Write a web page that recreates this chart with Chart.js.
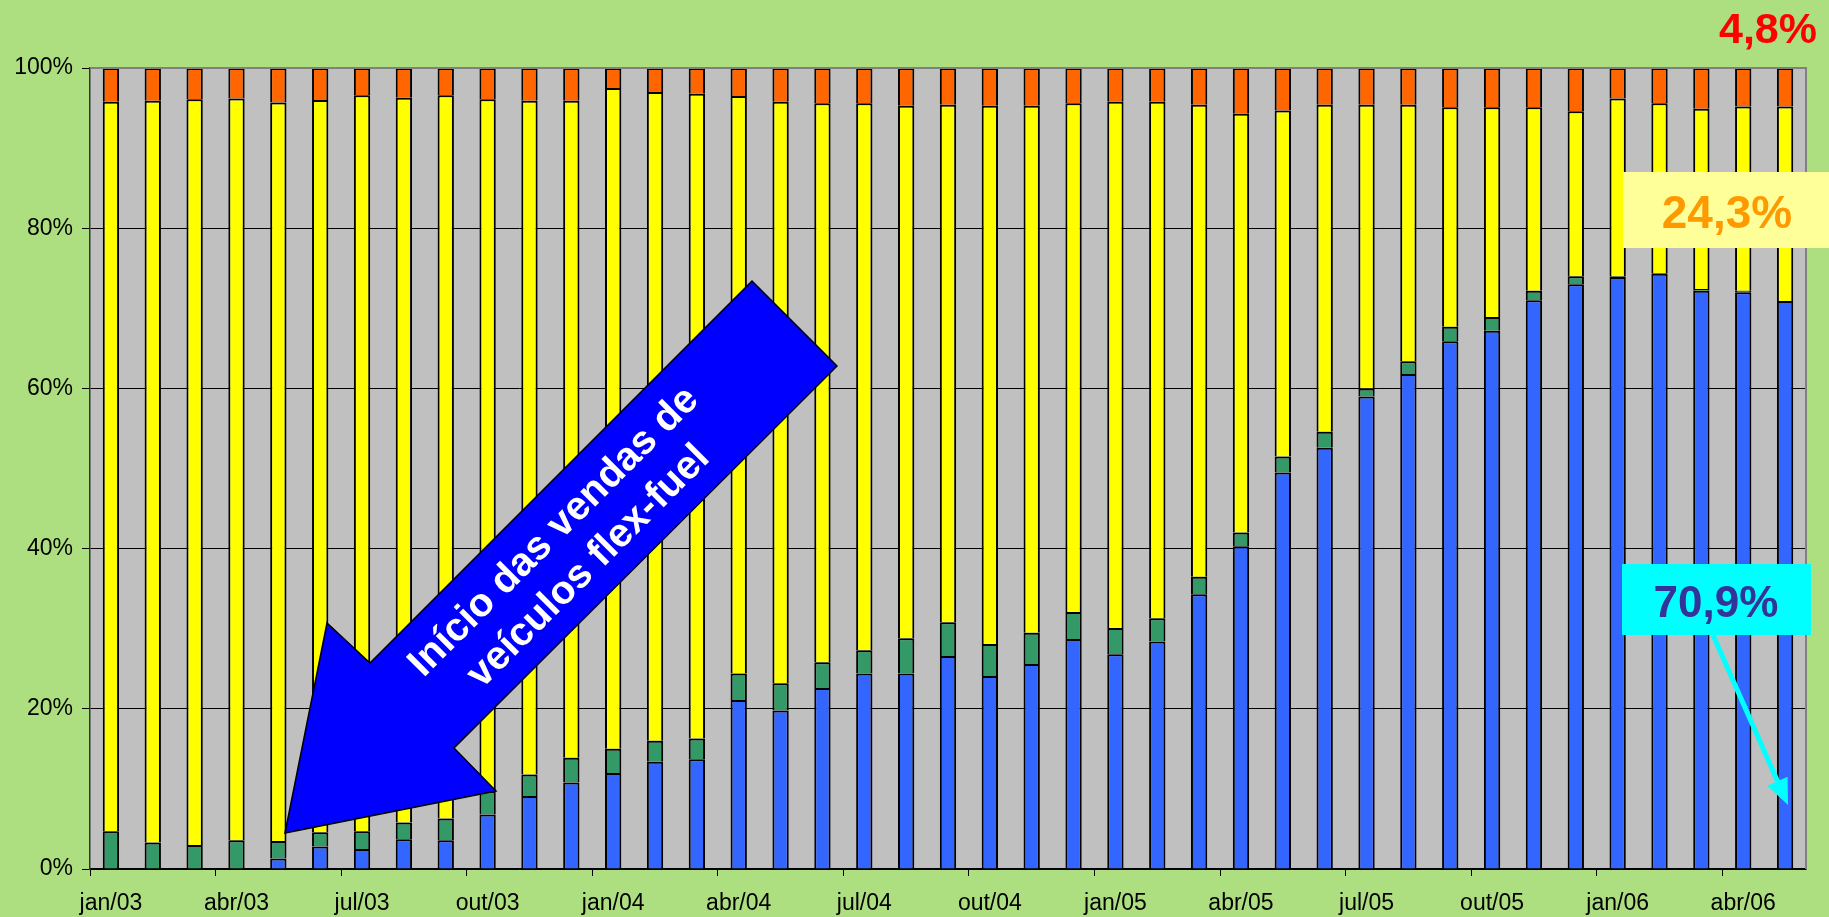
<!DOCTYPE html>
<html>
<head>
<meta charset="utf-8">
<script src="https://cdn.jsdelivr.net/npm/chart.js@4"></script>
<style>
  body { margin: 0; background: #addf80; }
  #wrap { width: 1829px; height: 917px; }
</style>
</head>
<body>
<div id="wrap"><canvas id="barChart" width="1829" height="917"></canvas></div>
<script>
const meses = [
  'jan/03','fev/03','mar/03','abr/03','mai/03','jun/03','jul/03','ago/03','set/03','out/03','nov/03','dez/03',
  'jan/04','fev/04','mar/04','abr/04','mai/04','jun/04','jul/04','ago/04','set/04','out/04','nov/04','dez/04',
  'jan/05','fev/05','mar/05','abr/05','mai/05','jun/05','jul/05','ago/05','set/05','out/05','nov/05','dez/05',
  'jan/06','fev/06','mar/06','abr/06','mai/06'
];

// participação nas vendas (%)
const flex = [0, 0, 0, 0, 1.3, 2.8, 2.5, 3.7, 3.6, 6.8, 9.1, 10.8, 12.0, 13.4, 13.7, 21.1, 19.8, 22.6, 24.4, 24.4,
  26.6, 24.1, 25.6, 28.7, 26.8, 28.4, 34.3, 40.3, 49.5, 52.6, 59.0, 61.8, 65.9, 67.2, 71.0, 73.0, 73.9, 74.3, 72.2, 72.0, 70.9];
const alcool = [4.7, 3.3, 3.0, 3.6, 2.2, 1.8, 2.2, 2.1, 2.7, 2.9, 2.7, 3.1, 3.0, 2.6, 2.6, 3.3, 3.4, 3.2, 2.9, 4.4,
  4.2, 4.0, 3.9, 3.4, 3.3, 2.9, 2.2, 1.7, 2.0, 2.0, 1.0, 1.6, 1.8, 1.7, 1.2, 1.0, 0.1, 0.1, 0.2, 0.2, 0.0];
const gasolina = [91.1, 92.6, 93.1, 92.6, 92.2, 91.4, 91.9, 90.5, 90.3, 86.4, 84.1, 82.0, 82.5, 81.0, 80.5, 72.1, 72.6, 69.8, 68.3, 66.5,
  64.6, 67.2, 65.8, 63.5, 65.7, 64.5, 58.9, 52.3, 43.2, 40.8, 35.4, 32.0, 27.4, 26.2, 22.9, 20.6, 22.2, 21.2, 22.5, 23.0, 24.3];
const diesel = [4.2, 4.1, 3.9, 3.8, 4.3, 4.0, 3.4, 3.7, 3.4, 3.9, 4.1, 4.1, 2.5, 3.0, 3.2, 3.5, 4.2, 4.4, 4.4, 4.7,
  4.6, 4.7, 4.7, 4.4, 4.2, 4.2, 4.6, 5.7, 5.3, 4.6, 4.6, 4.6, 4.9, 4.9, 4.9, 5.4, 3.8, 4.4, 5.1, 4.8, 4.8];

const fonte = '"Liberation Sans", Arial, sans-serif';

function serie(label, data, cor) {
  return {
    label: label,
    data: data,
    backgroundColor: cor,
    borderColor: '#000',
    borderWidth: 2,
    borderSkipped: 'bottom',
    barPercentage: 0.39,
    categoryPercentage: 1
  };
}

// fundo cinza da área de plotagem e moldura
const fundo = {
  id: 'fundo',
  beforeDraw(chart) {
    const { ctx, chartArea: a } = chart;
    ctx.save();
    ctx.fillStyle = '#c0c0c0';
    ctx.fillRect(a.left, a.top, a.right - a.left, a.bottom - a.top);
    ctx.restore();
  },
  afterDatasetsDraw(chart) {
    const { ctx, chartArea: a } = chart;
    ctx.save();
    ctx.strokeStyle = '#808080';
    ctx.lineWidth = 2;
    ctx.beginPath();
    ctx.moveTo(a.left, a.top);
    ctx.lineTo(a.right, a.top);
    ctx.lineTo(a.right, a.bottom);
    ctx.stroke();
    ctx.restore();
  }
};

// seta azul, caixas e rótulos
const anotacoes = {
  id: 'anotacoes',
  afterDraw(chart) {
    const ctx = chart.ctx;
    ctx.save();

    // seta grande
    const pts = [[285, 833], [327, 623], [370, 663], [752, 281], [837, 366], [454, 748], [496, 791]];
    ctx.beginPath();
    pts.forEach((p, i) => i ? ctx.lineTo(p[0], p[1]) : ctx.moveTo(p[0], p[1]));
    ctx.closePath();
    ctx.fillStyle = '#0000ff';
    ctx.fill();
    ctx.strokeStyle = '#000';
    ctx.lineWidth = 1.5;
    ctx.stroke();

    ctx.save();
    ctx.translate(571, 549);
    ctx.rotate(-Math.PI / 4);
    ctx.fillStyle = '#fff';
    ctx.font = 'bold 40px ' + fonte;
    ctx.textAlign = 'center';
    ctx.textBaseline = 'middle';
    ctx.fillText('Início das vendas de', 0, -24);
    ctx.fillText('veículos flex-fuel', 0, 25);
    ctx.restore();

    // 4,8%
    ctx.font = 'bold 43px ' + fonte;
    ctx.fillStyle = '#ff0000';
    ctx.textAlign = 'right';
    ctx.textBaseline = 'alphabetic';
    ctx.fillText('4,8%', 1817, 43);

    // 24,3%
    ctx.fillStyle = '#ffff99';
    ctx.fillRect(1623, 172, 206, 76);
    ctx.font = 'bold 46px ' + fonte;
    ctx.fillStyle = '#ff9900';
    ctx.textAlign = 'center';
    ctx.fillText('24,3%', 1727, 228);

    // 70,9% com seta
    ctx.fillStyle = '#00ffff';
    ctx.fillRect(1622, 564, 189, 71);
    ctx.font = 'bold 44px ' + fonte;
    ctx.fillStyle = '#333399';
    ctx.fillText('70,9%', 1716, 617);

    const x0 = 1713, y0 = 635, x1 = 1788, y1 = 805;
    const ang = Math.atan2(y1 - y0, x1 - x0);
    ctx.strokeStyle = '#00ffff';
    ctx.lineWidth = 5;
    ctx.beginPath();
    ctx.moveTo(x0, y0);
    ctx.lineTo(x1 - 18 * Math.cos(ang), y1 - 18 * Math.sin(ang));
    ctx.stroke();
    ctx.beginPath();
    ctx.moveTo(x1, y1);
    ctx.lineTo(x1 - 26 * Math.cos(ang) + 11 * Math.sin(ang), y1 - 26 * Math.sin(ang) - 11 * Math.cos(ang));
    ctx.lineTo(x1 - 26 * Math.cos(ang) - 11 * Math.sin(ang), y1 - 26 * Math.sin(ang) + 11 * Math.cos(ang));
    ctx.closePath();
    ctx.fillStyle = '#00ffff';
    ctx.fill();

    ctx.restore();
  }
};

const ctx = document.getElementById('barChart').getContext('2d');
new Chart(ctx, {
  type: 'bar',
  data: {
    labels: meses,
    datasets: [
      serie('Flex-fuel', flex, '#3366ff'),
      serie('Álcool', alcool, '#339966'),
      serie('Gasolina', gasolina, '#ffff00'),
      serie('Diesel', diesel, '#ff6600')
    ]
  },
  options: {
    responsive: false,
    animation: false,
    layout: { padding: { top: 68, right: 23, bottom: 0, left: 0 } },
    plugins: {
      legend: { display: false },
      tooltip: { enabled: false }
    },
    scales: {
      x: {
        stacked: true,
        offset: true,
        afterFit: s => { s.height = 48; },
        grid: {
          offset: true,
          drawOnChartArea: false,
          tickLength: 7,
          color: c => (c.index % 3 === 0 ? '#000' : 'rgba(0,0,0,0)')
        },
        border: { color: '#000', width: 1.5 },
        ticks: {
          autoSkip: false,
          maxRotation: 0,
          padding: 14,
          color: '#000',
          font: { family: fonte, size: 23 },
          callback: function (v, i) { return i % 3 === 0 ? meses[i] : ''; }
        }
      },
      y: {
        stacked: true,
        min: 0,
        max: 100,
        afterFit: s => { s.width = 90; },
        grid: {
          color: '#000',
          lineWidth: 1,
          tickLength: 8
        },
        border: { color: '#333', width: 1.5 },
        ticks: {
          stepSize: 20,
          padding: 9,
          color: '#000',
          font: { family: fonte, size: 23 },
          callback: v => v + '%'
        }
      }
    }
  },
  plugins: [fundo, anotacoes]
});
</script>
</body>
</html>
